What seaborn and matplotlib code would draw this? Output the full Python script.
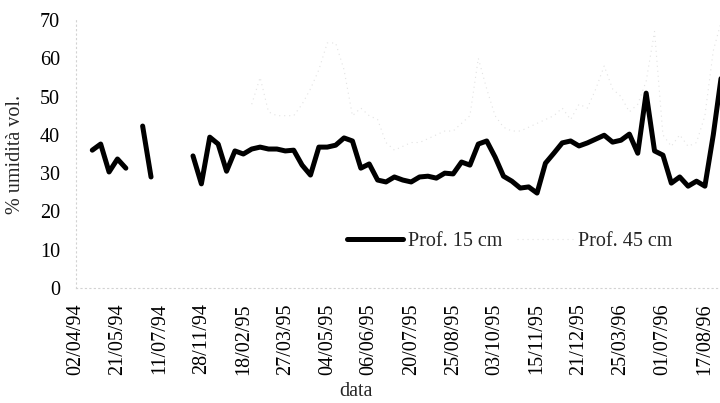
import numpy as np
import pandas as pd
import matplotlib
matplotlib.use("Agg")
import matplotlib.pyplot as plt
from matplotlib.lines import Line2D
import seaborn as sns

# Sampling dates shown on the category axis (every 5th sample)
tick_dates = ["02/04/94", "21/05/94", "11/07/94", "28/11/94", "18/02/95",
              "27/03/95", "04/05/95", "06/06/95", "20/07/95", "25/08/95",
              "03/10/95", "15/11/95", "21/12/95", "25/03/96", "01/07/96",
              "17/08/96"]

nan = np.nan
# Volumetric soil moisture (%) at 15 cm depth, one value per sample
prof_15 = [nan, nan, 36.0, 37.6, 30.3, 33.7, 31.3, nan, 42.3, 29.0,
           nan, nan, nan, nan, 34.5, 27.2, 39.4, 37.6, 30.5, 35.8,
           35.0, 36.3, 36.8, 36.3, 36.3, 35.8, 36.0, 32.1, 29.5, 36.8,
           36.8, 37.3, 39.2, 38.4, 31.3, 32.4, 28.2, 27.7, 29.0, 28.2,
           27.7, 29.0, 29.2, 28.7, 30.0, 29.8, 32.9, 32.1, 37.6, 38.4,
           34.2, 29.2, 27.9, 26.1, 26.4, 24.8, 32.6, 35.2, 37.9, 38.4,
           37.1, 37.9, 38.9, 39.9, 38.1, 38.6, 40.2, 35.2, 50.9, 35.8,
           34.7, 27.4, 29.0, 26.6, 27.9, 26.6, 40.0, 56.0]

# Volumetric soil moisture (%) at 45 cm depth
prof_45 = [nan] * 21 + [
           48, 55, 46, 45, 45, 45, 48, 52, 57,
           64, 64, 57, 45, 47, 45, 44, 38, 36, 37,
           38, 38, 39, 40, 41, 41, 43, 45, 60, 52,
           45, 42, 41, 41, 42, 43, 44, 45, 47, 44,
           48, 47, 52, 58, 52, 50, 46, 48, 54, 67,
           40, 37, 40, 37, 38, 45, 62, 70]

labels = ["Prof. 15 cm", "Prof. 45 cm"]


def segments(values):
    """Long table of one series, split into runs separated by missing samples."""
    v = np.asarray(values, dtype=float)
    run = np.cumsum(np.isnan(v))
    df = pd.DataFrame({"idx": np.arange(len(v)), "val": v, "run": run})
    return df.dropna()


sns.set_theme(style="white")
plt.rcParams["font.family"] = ["Liberation Serif", "DejaVu Serif"]

W, H = 720, 403
fig = plt.figure(figsize=(W / 100, H / 100), dpi=100)
ax = fig.add_axes([75.5 / W, 1 - 288 / H, (720 - 75.5) / W, (288 - 20) / H])

faint = "#e2e2e2"
faint_dash = (0, (1, 3.5))
sns.lineplot(data=segments(prof_45), x="idx", y="val", units="run",
             estimator=None, color=faint, linewidth=0.8, linestyle=faint_dash,
             ax=ax)
sns.lineplot(data=segments(prof_15), x="idx", y="val", units="run",
             estimator=None, color="black", linewidth=3.6,
             solid_joinstyle="round", solid_capstyle="round", ax=ax)

ax.set_xlim(0, 76.8)
ax.set_ylim(0, 70)
ax.set_yticks(range(0, 71, 10))
ax.set_xticks(range(0, 5 * len(tick_dates), 5))
ax.set_xticklabels(tick_dates, rotation=90, va="top", ha="center")
ax.tick_params(axis="both", length=0, labelsize=14.5, colors="black")
ax.tick_params(axis="x", pad=11)
ax.tick_params(axis="y", pad=11)

for side in ("top", "right"):
    ax.spines[side].set_visible(False)
for side in ("left", "bottom"):
    ax.spines[side].set_color("#d2d2d2")
    ax.spines[side].set_linestyle((0, (1, 3)))
    ax.spines[side].set_linewidth(0.8)

ax.set_xlabel("")
ax.set_ylabel("% umidità vol.", fontsize=14.5)
ax.yaxis.set_label_coords((25 - 75.5) / (720 - 75.5), 0.5)
fig.text(356 / W, 1 - 392 / H, "data", ha="center", va="center",
         fontsize=14.5)

handles = [Line2D([], [], color="black", linewidth=3.6),
           Line2D([], [], color=faint, linewidth=0.8, linestyle=faint_dash)]
fig.legend(handles, labels, loc="center left",
           bbox_to_anchor=(347 / W, 1 - 241 / H), ncol=2, frameon=False,
           fontsize=14.5, handlelength=2.8, handletextpad=0.25,
           columnspacing=0.7, borderpad=0, borderaxespad=0)

fig.savefig("out.png", dpi=100, facecolor="white")
